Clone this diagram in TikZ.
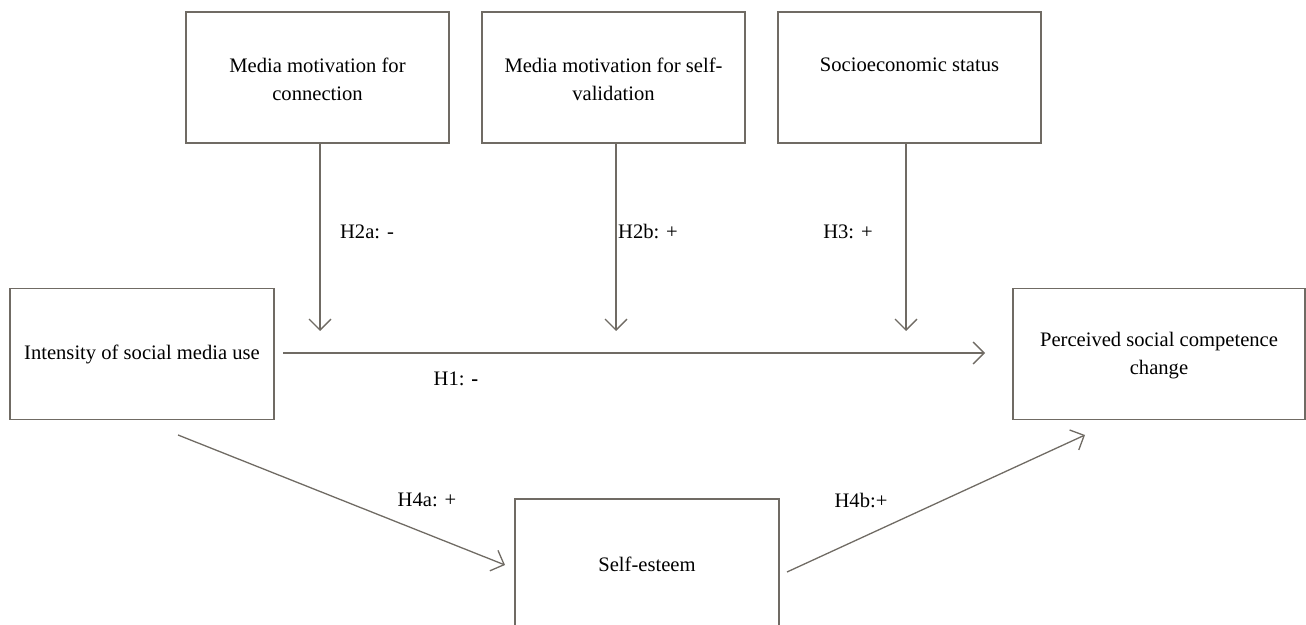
\documentclass[tikz,border=0pt]{standalone}
\usepackage{fontspec}
\setmainfont{Liberation Serif}
\usetikzlibrary{arrows.meta,positioning}
\definecolor{linegray}{RGB}{112,107,100}
\begin{document}
\begin{tikzpicture}[x=0.5pt,y=-0.5pt,font=\fontsize{10.3}{14}\selectfont,varbox/.style={draw=linegray,line width=0.65pt,minimum height=65.5pt,inner sep=0pt},boxtext/.style={align=center,inner sep=0pt},link/.style={draw=linegray,line width=0.65pt,-{Straight Barb[length=5.5pt,width=11pt]}},hyp/.style={inner sep=0pt}]
\useasboundingbox (0,0) rectangle (1306,625); \clip (0,0) rectangle (1306,625);
\node[varbox,minimum width=131.5pt] (conn) at (317.5,77.5) {}; \node[boxtext,below=23pt of conn.north] (conntext) {Media motivation for\\connection};
\node[varbox,minimum width=131.5pt] (selfval) at (613.5,77.5) {}; \node[boxtext,below=23pt of selfval.north] (selfvaltext) {Media motivation for self-\\validation};
\node[varbox,minimum width=131.5pt] (ses) at (909.5,77.5) {}; \node[boxtext,below=23pt of ses.north] (sestext) {Socioeconomic status};
\node[varbox,minimum width=132pt] (intens) at (142,354) {Intensity of social media use};
\node[varbox,minimum width=146pt] (percv) at (1159,354) {}; \node[boxtext] (percvtext) at (1159,356) {Perceived social competence\\change};
\node[varbox,minimum width=132pt] (selfest) at (647,564.5) {Self-esteem};
\coordinate (h1start) at (283,353); \coordinate (h1end) at (985,353);
\coordinate (conntip) at (320,331); \coordinate (selfvaltip) at (616,331); \coordinate (sestip) at (906,331);
\coordinate (h4astart) at (178,435); \coordinate (h4aend) at (505,565); \coordinate (h4bstart) at (787,572); \coordinate (h4bend) at (1085,435);
\draw[link] (conn.south -| conntip) -- (conntip); \draw[link] (selfval.south -| selfvaltip) -- (selfvaltip); \draw[link] (ses.south -| sestip) -- (sestip);
\draw[link] (h1start) -- (h1end); \draw[link] (h4astart) -- (h4aend); \draw[link] (h4bstart) -- (h4bend);
\node[hyp] (h2a) at (367,232) {H2a: -}; \node[hyp] (h2b) at (648,232) {H2b: +}; \node[hyp] (h3) at (848,232) {H3: +};
\node[hyp] (h1) at (456,379) {H1: \textbf{-}}; \node[hyp] (h4a) at (427,500) {H4a: +}; \node[hyp] (h4b) at (861,500) {H4b:+};
\end{tikzpicture}
\end{document}
